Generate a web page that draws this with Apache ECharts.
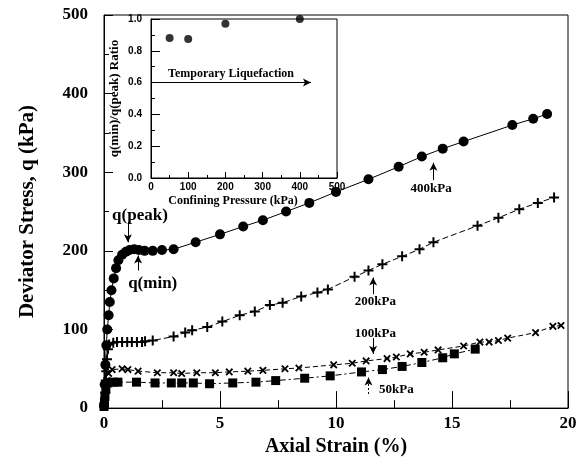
<!DOCTYPE html>
<html>
<head>
<meta charset="utf-8">
<script src="https://cdn.jsdelivr.net/npm/echarts@6/dist/echarts.min.js"></script>
<style>
  html, body { margin: 0; padding: 0; background: #fff; }
  #chart { width: 585px; height: 462px; }
</style>
</head>
<body>
<div id="chart"></div>
<script>
// Deviator stress vs axial strain, four confining pressures
var s400 = [[0,3],[0.03,30],[0.06,55],[0.1,80],[0.14,100],[0.2,118],[0.25,135],[0.32,150],[0.42,165],[0.52,178],[0.62,188],[0.78,195],[0.95,199],[1.1,201],[1.3,202],[1.5,201],[1.75,200],[2.1,200],[2.5,201],[3.0,202],[3.95,211],[5.0,221],[6.0,231],[6.85,239],[7.85,250],[8.85,261],[10.0,275],[11.4,291],[12.7,307],[13.7,320],[14.6,330],[15.5,339],[17.6,360],[18.5,368],[19.1,374]];
var s200 = [[0,3],[0.05,20],[0.08,35],[0.1,47],[0.13,62],[0.17,75],[0.22,81],[0.4,83],[0.56,84],[0.78,84],[1.0,84],[1.2,84],[1.42,84],[1.64,84],[1.77,85],[2.1,86],[3.0,91],[3.5,96],[3.8,99],[4.45,103],[5.1,110],[5.85,118],[6.5,123],[7.15,131],[7.7,134],[8.5,142],[9.2,147],[9.65,151],[10.8,167],[11.4,175],[12.0,183],[12.85,193],[13.6,202],[14.2,211],[16.1,232],[17.0,242],[17.9,253],[18.7,261],[19.4,268]];
var s100 = [[0,2],[0.04,12],[0.08,25],[0.12,35],[0.2,44],[0.35,49],[0.78,50],[1.03,49],[1.47,47],[2.3,45],[3.0,45],[3.35,44],[4.0,45],[4.8,45],[5.4,46],[6.2,47],[6.85,48],[7.8,50],[8.4,51],[9.9,55],[10.7,57],[11.3,60],[12.2,63],[12.6,65],[13.2,69],[13.8,71],[14.4,74],[15.5,79],[16.2,84],[16.6,84],[17.0,86],[17.4,89],[18.6,96],[19.35,104],[19.7,105]];
var s50 = [[0,2],[0.02,8],[0.04,15],[0.08,24],[0.17,32],[0.4,33],[0.6,33],[1.4,33],[2.2,32],[2.9,32],[3.35,32],[3.85,32],[4.55,31],[5.55,32],[6.55,33],[7.4,35],[8.65,38],[9.75,41],[11.1,46],[12.0,49],[12.85,53],[13.7,58],[14.6,64],[15.1,69],[16.0,75]];

// inset: q(min)/q(peak) ratio vs confining pressure
var pressures = [50, 100, 200, 400];
var ratios = [0.88, 0.875, 0.97, 1.0];

// annotation text and arrows (data coordinates)
var notes = [
    { text: 'q(peak)', at: [1.55, 245], from: [1.03, 237], to: [1.03, 211] },
    { text: 'q(min)', at: [2.1, 158], from: [1.47, 175], to: [1.47, 194] },
    { text: '400kPa', at: [14.1, 279], from: [14.2, 290], to: [14.2, 312] },
    { text: '200kPa', at: [11.7, 135], from: [11.6, 145], to: [11.6, 166] },
    { text: '100kPa', at: [11.7, 95], from: [11.6, 89], to: [11.6, 69] },
    { text: '50kPa', at: [12.6, 24], from: [11.4, 18], to: [11.4, 39], dashed: true }
];
var liquefaction = { text: 'Temporary Liquefaction', from: [0, 0.6], to: [430, 0.6] };

var serif = 'Liberation Serif';
var plusPath = 'path://M4,0H6V4H10V6H6V10H4V6H0V4H4Z';

var chart = echarts.init(document.getElementById('chart'));

function curve(name, data, symbol, size, dash, rotate) {
    return {
        name: name,
        type: 'line',
        xAxisIndex: 0,
        yAxisIndex: 0,
        data: data,
        symbol: symbol,
        symbolSize: size,
        symbolRotate: rotate || 0,
        showAllSymbol: true,
        itemStyle: { color: '#000' },
        lineStyle: { color: '#000', width: 1, type: dash },
        emphasis: { disabled: true },
        z: 3
    };
}

var series400 = curve('400kPa', s400, 'circle', 10, 'solid');
series400.markLine = {
    silent: true,
    symbol: ['none', 'arrow'],
    symbolSize: [6, 8],
    label: { show: false },
    lineStyle: { color: '#000', width: 1, type: 'solid' },
    data: notes.map(function (n) {
        return [
            { coord: n.from, lineStyle: { type: n.dashed ? [2, 2] : 'solid' } },
            { coord: n.to }
        ];
    })
};
series400.markPoint = {
    silent: true,
    symbol: 'rect',
    symbolSize: 1,
    itemStyle: { color: 'rgba(0,0,0,0)' },
    label: {
        show: true,
        position: 'inside',
        formatter: '{b}',
        color: '#000',
        fontFamily: serif,
        fontWeight: 'bold',
        fontSize: 13
    },
    data: notes.map(function (n) {
        var big = n.text.charAt(0) === 'q';
        return { name: n.text, coord: n.at, label: { fontSize: big ? 17 : 13 } };
    })
};

var option = {
    backgroundColor: '#fff',
    animation: false,
    grid: [
        { left: 104, right: 17, top: 15, bottom: 53, show: true, borderColor: '#000', borderWidth: 1 },
        { left: 151, top: 19, width: 186, height: 159, show: true, backgroundColor: '#fff', borderColor: '#000', borderWidth: 1, z: 5 }
    ],
    xAxis: [
        {
            gridIndex: 0, type: 'value', min: 0, max: 20, interval: 5,
            name: 'Axial Strain (%)', nameLocation: 'middle', nameGap: 25,
            nameTextStyle: { fontFamily: serif, fontWeight: 'bold', fontSize: 20, color: '#000' },
            axisLine: { lineStyle: { color: '#000' } },
            axisTick: { inside: true, length: 17, lineStyle: { color: '#000' } },
            minorTick: { show: true, splitNumber: 2, length: 8, lineStyle: { color: '#000' } },
            axisLabel: { margin: 7, fontFamily: serif, fontWeight: 'bold', fontSize: 17, color: '#000' },
            splitLine: { show: false }
        },
        {
            gridIndex: 1, type: 'value', min: 0, max: 500, interval: 100,
            name: 'Confining Pressure (kPa)', nameLocation: 'middle', nameGap: 17,
            nameTextStyle: { fontFamily: serif, fontWeight: 'bold', fontSize: 12, color: '#000', padding: [0, 22, 0, 0] },
            axisLine: { lineStyle: { color: '#000' } },
            axisTick: { inside: true, length: 6, lineStyle: { color: '#000' } },
            minorTick: { show: true, splitNumber: 2, length: 3, lineStyle: { color: '#000' } },
            axisLabel: { margin: 4, fontFamily: 'Liberation Sans', fontWeight: 'bold', fontSize: 10, color: '#000' },
            splitLine: { show: false },
            z: 6
        }
    ],
    yAxis: [
        {
            gridIndex: 0, type: 'value', min: 0, max: 500, interval: 100,
            name: 'Deviator Stress, q (kPa)', nameLocation: 'middle', nameGap: 66,
            nameTextStyle: { fontFamily: serif, fontWeight: 'bold', fontSize: 21, color: '#000' },
            axisLine: { lineStyle: { color: '#000' } },
            axisTick: { inside: true, length: 9, lineStyle: { color: '#000' } },
            minorTick: { show: true, splitNumber: 2, length: 5, lineStyle: { color: '#000' } },
            axisLabel: { margin: 16, fontFamily: serif, fontWeight: 'bold', fontSize: 17, color: '#000' },
            splitLine: { show: false }
        },
        {
            gridIndex: 1, type: 'value', min: 0, max: 1, interval: 0.2,
            name: 'q(min)/q(peak) Ratio', nameLocation: 'middle', nameGap: 30,
            nameTextStyle: { fontFamily: serif, fontWeight: 'bold', fontSize: 13, color: '#000' },
            axisLine: { lineStyle: { color: '#000' } },
            axisTick: { inside: true, length: 9, lineStyle: { color: '#000' } },
            minorTick: { show: true, splitNumber: 2, length: 4, lineStyle: { color: '#000' } },
            axisLabel: {
                margin: 9, fontFamily: 'Liberation Sans', fontWeight: 'bold', fontSize: 10, color: '#000',
                formatter: function (v) { return v.toFixed(1); }
            },
            splitLine: { show: false },
            z: 6
        }
    ],
    series: [
        series400,
        curve('200kPa', s200, plusPath, 10, [6, 3]),
        curve('100kPa', s100, plusPath, 9, [5, 3], 45),
        curve('50kPa', s50, 'rect', 9, [6, 3, 2, 3]),
        {
            name: 'ratio',
            type: 'scatter',
            xAxisIndex: 1,
            yAxisIndex: 1,
            data: pressures.map(function (p, i) { return [p, ratios[i]]; }),
            symbol: 'circle',
            symbolSize: 8,
            itemStyle: { color: '#000' },
            z: 6,
            markLine: {
                silent: true,
                symbol: ['none', 'arrow'],
                symbolSize: [6, 8],
                lineStyle: { color: '#000', width: 1, type: 'solid' },
                label: {
                    show: true,
                    position: 'insideMiddleTop',
                    formatter: liquefaction.text,
                    color: '#000',
                    fontFamily: serif,
                    fontWeight: 'bold',
                    fontSize: 12,
                    distance: 3
                },
                data: [[{ coord: liquefaction.from }, { coord: liquefaction.to }]]
            }
        }
    ]
};

chart.setOption(option);
</script>
</body>
</html>
